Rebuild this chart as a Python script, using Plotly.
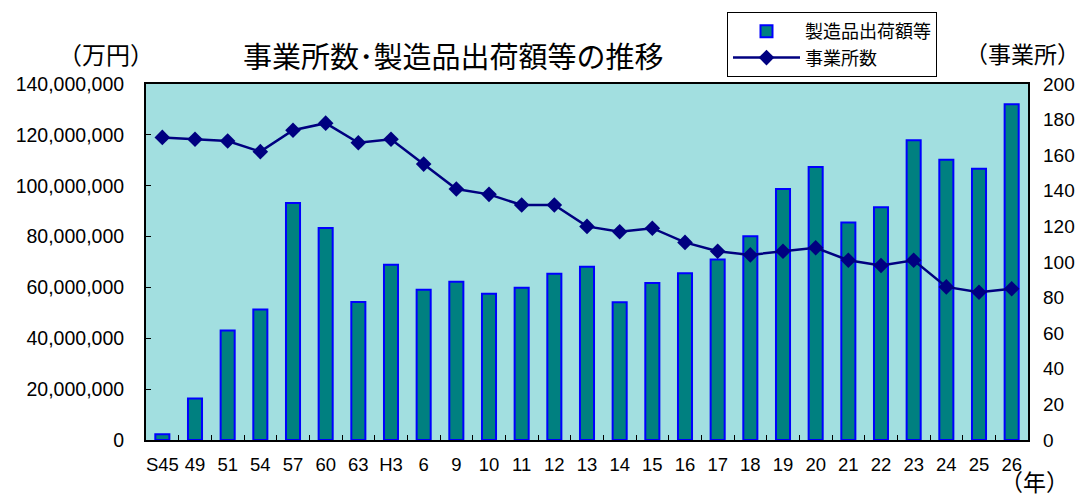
import plotly.graph_objects as go

years = ["S45", "49", "51", "54", "57", "60", "63", "H3", "6", "9", "10", "11", "12", "13",
         "14", "15", "16", "17", "18", "19", "20", "21", "22", "23", "24", "25", "26"]

# 製造品出荷額等 (万円)
shipments = [2300000, 16300000, 43100000, 51300000, 93200000, 83400000, 54300000, 68900000,
             59100000, 62200000, 57500000, 59900000, 65400000, 68100000, 54200000, 61700000,
             65600000, 71000000, 80100000, 98700000, 107400000, 85500000, 91500000, 117900000,
             110200000, 106700000, 132000000]

# 事業所数
establishments = [170, 169, 168, 162, 174, 178, 167, 169, 155, 141, 138, 132, 132, 120,
                  117, 119, 111, 106, 104, 106, 108, 101, 98, 101, 86, 83, 85]

font_family = "Liberation Sans, Noto Sans CJK JP"
jp_font = "Noto Sans CJK JP"

# the page adds an 8px body margin, so the figure is drawn that much smaller
OFF = 8
W, H = 1083 - OFF, 497 - OFF
# plot area in page pixels
L, R, T, B = 146, 1028, 84, 440
pw, ph = R - L, B - T


def px(xp):
    return (xp - L) / pw


def py(yp):
    return (B - yp) / ph


def label(text, x, y, size):
    return dict(text=text, x=px(x), y=py(y), xref="paper", yref="paper",
                xanchor="center", yanchor="middle", showarrow=False,
                font=dict(family=jp_font, size=size))


fig = go.Figure()
fig.add_trace(go.Bar(x=years, y=shipments, name="製造品出荷額等", width=0.43,
                     marker=dict(color="#008080", line=dict(color="#0000FF", width=2))))
fig.add_trace(go.Scatter(x=years, y=establishments, name="事業所数", yaxis="y2",
                         mode="lines+markers",
                         line=dict(color="#000080", width=2.5),
                         marker=dict(symbol="diamond", size=12, color="#000080")))

fig.update_layout(
    width=W, height=H,
    margin=dict(l=L - OFF, r=W - (R - OFF), t=T - OFF, b=H - (B - OFF), autoexpand=False),
    paper_bgcolor="white",
    plot_bgcolor="#A2DFE0",
    font=dict(family=font_family, size=18, color="black"),
    showlegend=True,
    legend=dict(x=px(727), y=py(12), xanchor="left", yanchor="top",
                bordercolor="black", borderwidth=1, bgcolor="white",
                font=dict(family=jp_font, size=18), traceorder="normal",
                tracegroupgap=0, itemwidth=67),
    xaxis=dict(type="category", range=[-0.5, 26.5], showline=True, linecolor="black",
               linewidth=2, mirror=True, ticks="inside", tickson="boundaries", ticklen=5,
               tickcolor="black", showgrid=False, tickangle=0, tickfont=dict(size=18.5),
               ticklabelstandoff=7),
    yaxis=dict(range=[0, 140000000], dtick=20000000, tickformat=",d", showgrid=False,
               showline=True, linecolor="black", linewidth=2, mirror=True,
               ticks="inside", ticklen=5, tickcolor="black", zeroline=False,
               tickfont=dict(size=19.5), ticklabelstandoff=16),
    yaxis2=dict(range=[0, 200], dtick=20, overlaying="y", side="right", showgrid=False,
                showline=False, ticks="", zeroline=False, tickfont=dict(size=19),
                ticklabelstandoff=14),
    annotations=[
        label("事業所数･製造品出荷額等の推移", 453, 55, 29),
        label("（万円）", 106, 53, 24),
        label("（事業所）", 1022, 53, 23),
        label("（年）", 1034, 481, 23),
    ],
)

fig.write_html("out.html")
